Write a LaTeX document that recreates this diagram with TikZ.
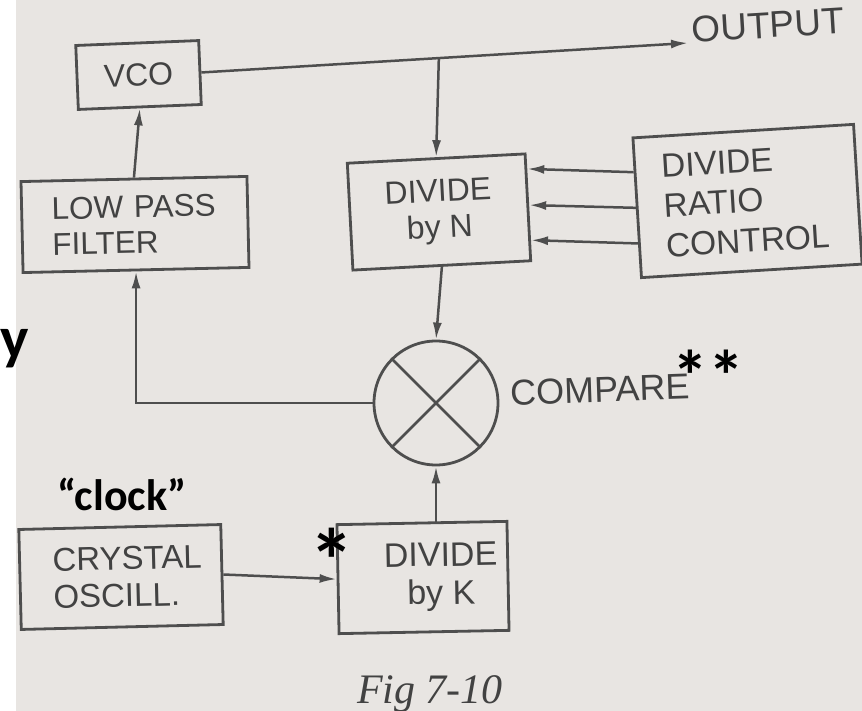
\documentclass[tikz,border=0pt]{standalone}
\usepackage{fontspec}
\setmainfont{Liberation Sans}
\newfontfamily\notefont{Carlito}
\newfontfamily\captionfont{Liberation Serif}
\usetikzlibrary{arrows.meta,positioning,calc}
\definecolor{paper}{RGB}{232,229,226}
\definecolor{ink}{RGB}{66,66,66}
\definecolor{wire}{RGB}{78,78,78}
\tikzset{
  blk/.style={rectangle, draw=wire, line width=2.8pt, text=ink, align=center,
    inner sep=0pt, font=\fontsize{32}{36}\selectfont, rotate=2},
  sigarrow/.style={-{Latex[length=17pt,width=9pt]}, draw=wire, line width=2.5pt},
  note/.style={text=black, inner sep=0pt, font=\notefont\bfseries}
}

\begin{document}
\begin{tikzpicture}[x=1pt,y=-1pt]
  \useasboundingbox (0,0) rectangle (862,711);
  \fill[white] (0,0) rectangle (16,711);
  \fill[paper] (16,0) rectangle (862,711);
  % blocks
  \node[blk,minimum width=123pt,minimum height=64pt,rotate=0.3] (vco) at (138.5,75) {VCO};
  \node[blk,minimum height=91pt,text width=166pt,inner xsep=30pt,align=left,
    rotate=-0.7,font=\fontsize{31.5}{35.5}\selectfont] (lpf) at (135,224.5) {LOW PASS\\FILTER};
  \node[blk,minimum width=178pt,minimum height=107pt,rotate=1,
    font=\fontsize{32}{36}\selectfont] (divn) at (439,212) {DIVIDE\\by N};
  \node[blk,minimum height=140pt,text width=168pt,inner xsep=26.5pt,align=left,
    rotate=1.5,font=\fontsize{33.5}{40}\selectfont] (ratio) at (747.5,201) {DIVIDE\\RATIO\\CONTROL};
  \node[circle,draw=wire,line width=2.8pt,minimum size=124pt] (cmp) at (436,403) {};
  \draw[wire,line width=2.5pt] (cmp.north west) -- (cmp.south east);
  \draw[wire,line width=2.5pt] (cmp.north east) -- (cmp.south west);
  \node[blk,minimum height=100pt,text width=136pt,inner xsep=33pt,align=left,
    rotate=-0.6,font=\fontsize{33}{37}\selectfont] (xtal) at (121,577) {CRYSTAL\\OSCILL.};
  \node[blk,minimum width=170pt,minimum height=109pt,rotate=-0.9,
    font=\fontsize{34}{38}\selectfont] (divk) at (423,577.5) {\hspace*{36pt}DIVIDE\\\hspace*{36pt}by K};
  % labels
  \node[text=ink,font=\fontsize{37}{37}\selectfont,rotate=3.5,anchor=west,inner sep=0pt] (outlbl) at (692,30) {OUTPUT};
  \node[text=ink,font=\fontsize{36}{36}\selectfont,rotate=2,anchor=west,inner sep=0pt] (cmplbl) at (510,393) {COMPARE};
  \node[text=ink,font=\captionfont\itshape\fontsize{42}{42}\selectfont,anchor=base] (fig) at (430,703) {Fig 7-10};
  % connectors
  \coordinate (outtip) at (688,43);
  \draw[sigarrow] (vco.east) -- (outtip);
  \coordinate (tap) at ($(vco.east)!0.488!(outtip)$);
  \draw[sigarrow] (tap) -- (divn.north);
  \draw[sigarrow] (lpf.north) -- (vco.south);
  \draw[sigarrow] ($(ratio.north west)!0.25!(ratio.south west)$) -- ($(divn.north east)!0.15!(divn.south east)$);
  \draw[sigarrow] ($(ratio.north west)!0.5!(ratio.south west)$) -- ($(divn.north east)!0.48!(divn.south east)$);
  \draw[sigarrow] ($(ratio.north west)!0.75!(ratio.south west)$) -- ($(divn.north east)!0.8!(divn.south east)$);
  \draw[sigarrow] (divn.south) -- (cmp.north);
  \draw[sigarrow] (cmp.west) -| (lpf.south);
  \draw[sigarrow] (xtal.east) -- (divk.west);
  \draw[sigarrow] (cmp.south |- divk.north) -- (cmp.south);
  % notes
  \node[note,font=\notefont\bfseries\fontsize{60}{60}\selectfont,anchor=base east] (ynote) at (29,358) {y};
  \node[note,font=\notefont\bfseries\fontsize{44}{44}\selectfont,anchor=base] (clocknote) at (122,510) {“clock”};
  \node[note,font=\notefont\bfseries\fontsize{90}{90}\selectfont] (star) at (332,560) {*};
  \node[note,font=\notefont\bfseries\fontsize{72}{72}\selectfont] (stars) at (708,376) {**};
\end{tikzpicture}
\end{document}
